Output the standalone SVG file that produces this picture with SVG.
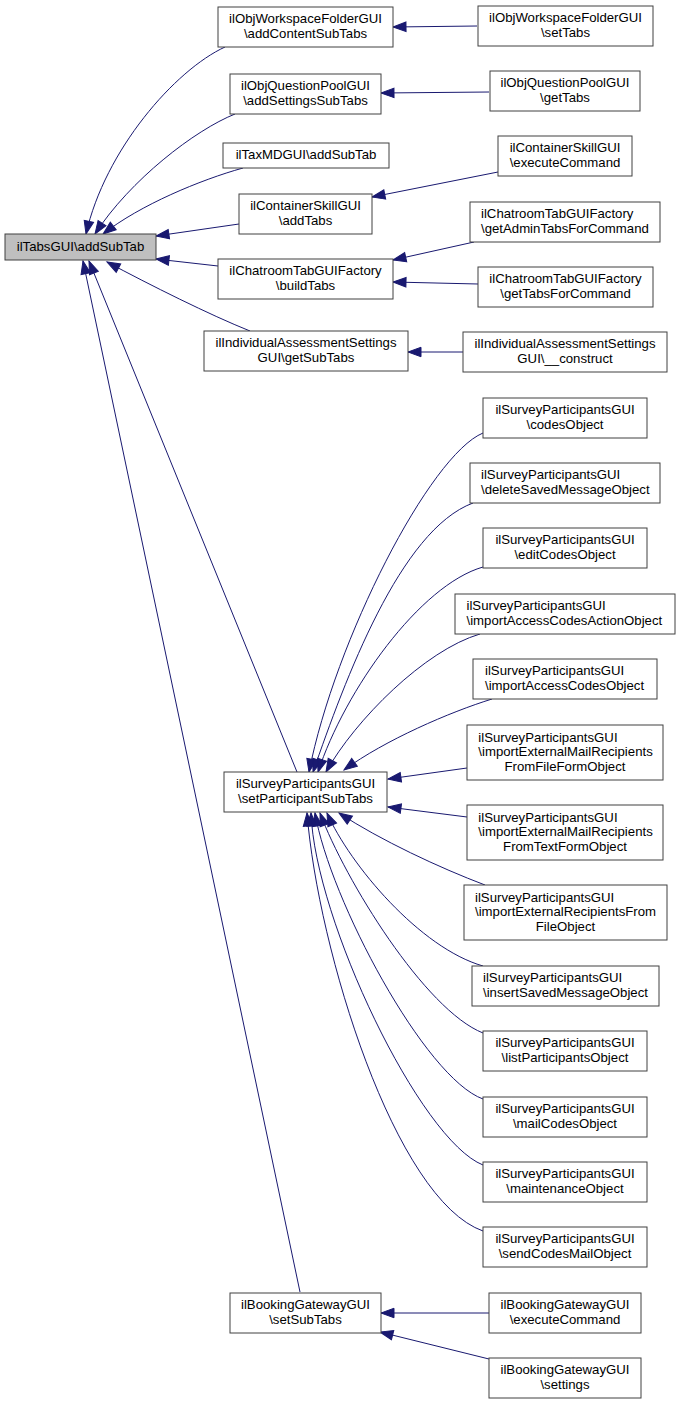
<svg xmlns="http://www.w3.org/2000/svg" width="680" height="1404" viewBox="0 0 680 1404">
<style>
.n rect{fill:#ffffff;stroke:#404040;stroke-width:1}
.root rect{fill:#bfbfbf}
text{font-family:"Liberation Sans",Arial,Helvetica,sans-serif;font-size:13.2px;fill:#000000}
.c{text-anchor:middle}
.l{text-anchor:start}
.e path{fill:none;stroke:#191970;stroke-width:1;marker-end:url(#ah)}
</style>
<defs>
<marker id="ah" markerUnits="userSpaceOnUse" markerWidth="14" markerHeight="11" viewBox="-0.5 -0.5 14 10.5" refX="13" refY="4.75" orient="auto" overflow="visible">
<path d="M0,0 L13,4.75 L0,9.5 Z" fill="#191970" stroke="#191970" stroke-width="1"/>
</marker>
</defs>
<rect width="680" height="1404" fill="#ffffff"/>
<g id="edges" class="e">
<path d="M225,47 C175,70 105,150 86,234"/>
<path d="M235,114 C195,130 130,180 95,234"/>
<path d="M243,168 C200,180 140,205 103,234"/>
<path d="M239,224 L156,236"/>
<path d="M218,266 L156,259"/>
<path d="M250,331 C210,315 150,285 107,262"/>
<path d="M297,772 L89,261"/>
<path d="M300,1292 L83,261"/>
<path d="M477,26 L393,27"/>
<path d="M489,92 L381,93"/>
<path d="M498,172 L372,197"/>
<path d="M474,242 L393,260"/>
<path d="M478,284 L393,282"/>
<path d="M463,352 L408,352"/>
<path d="M483,433 C430,455 335,640 309,772"/>
<path d="M473,503 C400,530 345,680 313,772"/>
<path d="M483,567 C420,585 345,690 318,772"/>
<path d="M480,634 C425,650 355,720 326,772"/>
<path d="M492,699 C450,712 385,740 344,770"/>
<path d="M467,768 L388,779"/>
<path d="M467,817 L388,807"/>
<path d="M485,885 C440,868 380,840 339,813"/>
<path d="M483,966 C420,948 350,865 327,813"/>
<path d="M483,1033 C425,1010 345,880 320,813"/>
<path d="M483,1099 C425,1078 330,900 315,813"/>
<path d="M483,1165 C420,1140 315,920 311,813"/>
<path d="M483,1231 C395,1200 318,950 307,813"/>
<path d="M489,1313 L381,1313"/>
<path d="M489,1359 L380,1332"/>
</g>
<g id="n0" class="n root"><rect x="5" y="234" width="151" height="26"/><text class="c" x="80.5" y="250.7">ilTabsGUI\addSubTab</text></g>
<g id="n1" class="n"><rect x="218" y="7" width="175" height="40"/><text class="c"><tspan x="305.5" y="23.4">ilObjWorkspaceFolderGUI</tspan><tspan x="305.5" y="38">\addContentSubTabs</tspan></text></g>
<g id="n2" class="n"><rect x="230" y="74" width="151" height="40"/><text class="c"><tspan x="305.5" y="90.4">ilObjQuestionPoolGUI</tspan><tspan x="305.5" y="105">\addSettingsSubTabs</tspan></text></g>
<g id="n3" class="n"><rect x="223" y="143" width="166" height="25"/><text class="c" x="306" y="159.2">ilTaxMDGUI\addSubTab</text></g>
<g id="n4" class="n"><rect x="239" y="194" width="133" height="40"/><text class="c"><tspan x="305.5" y="210.4">ilContainerSkillGUI</tspan><tspan x="305.5" y="225">\addTabs</tspan></text></g>
<g id="n5" class="n"><rect x="218" y="259" width="175" height="40"/><text class="c"><tspan x="305.5" y="275.4">ilChatroomTabGUIFactory</tspan><tspan x="305.5" y="290">\buildTabs</tspan></text></g>
<g id="n6" class="n"><rect x="204" y="331" width="204" height="40"/><text class="c"><tspan x="306" y="347.4">ilIndividualAssessmentSettings</tspan><tspan x="306" y="362">GUI\getSubTabs</tspan></text></g>
<g id="n7" class="n"><rect x="478" y="6" width="175" height="40"/><text class="c"><tspan x="565.5" y="22.4">ilObjWorkspaceFolderGUI</tspan><tspan x="565.5" y="37">\setTabs</tspan></text></g>
<g id="n8" class="n"><rect x="490" y="71" width="150" height="40"/><text class="c"><tspan x="565" y="87.4">ilObjQuestionPoolGUI</tspan><tspan x="565" y="102">\getTabs</tspan></text></g>
<g id="n9" class="n"><rect x="498" y="136" width="134" height="40"/><text class="c"><tspan x="565" y="152.4">ilContainerSkillGUI</tspan><tspan x="565" y="167">\executeCommand</tspan></text></g>
<g id="n10" class="n"><rect x="470" y="202" width="190" height="40"/><text class="l"><tspan x="481" y="218.4">ilChatroomTabGUIFactory</tspan><tspan x="481" y="233">\getAdminTabsForCommand</tspan></text></g>
<g id="n11" class="n"><rect x="478" y="267" width="175" height="40"/><text class="c"><tspan x="565.5" y="283.4">ilChatroomTabGUIFactory</tspan><tspan x="565.5" y="298">\getTabsForCommand</tspan></text></g>
<g id="n12" class="n"><rect x="463" y="332" width="204" height="40"/><text class="c"><tspan x="565" y="348.4">ilIndividualAssessmentSettings</tspan><tspan x="565" y="363">GUI\__construct</tspan></text></g>
<g id="n13" class="n"><rect x="224" y="772" width="163" height="40"/><text class="c"><tspan x="305.5" y="788.4">ilSurveyParticipantsGUI</tspan><tspan x="305.5" y="803">\setParticipantSubTabs</tspan></text></g>
<g id="n14" class="n"><rect x="483" y="398" width="164" height="40"/><text class="c"><tspan x="565" y="414.4">ilSurveyParticipantsGUI</tspan><tspan x="565" y="429">\codesObject</tspan></text></g>
<g id="n15" class="n"><rect x="470" y="463" width="190" height="40"/><text class="l"><tspan x="481" y="479.4">ilSurveyParticipantsGUI</tspan><tspan x="481" y="494">\deleteSavedMessageObject</tspan></text></g>
<g id="n16" class="n"><rect x="483" y="528" width="164" height="40"/><text class="c"><tspan x="565" y="544.4">ilSurveyParticipantsGUI</tspan><tspan x="565" y="559">\editCodesObject</tspan></text></g>
<g id="n17" class="n"><rect x="455" y="594" width="220" height="40"/><text class="l"><tspan x="466.5" y="610.4">ilSurveyParticipantsGUI</tspan><tspan x="466.5" y="625">\importAccessCodesActionObject</tspan></text></g>
<g id="n18" class="n"><rect x="473" y="659" width="184" height="40"/><text class="l"><tspan x="485" y="675.4">ilSurveyParticipantsGUI</tspan><tspan x="485" y="690">\importAccessCodesObject</tspan></text></g>
<g id="n19" class="n"><rect x="467" y="725" width="196" height="55"/><text class="l"><tspan x="478.3" y="741.6">ilSurveyParticipantsGUI</tspan><tspan x="478.3" y="756.2">\importExternalMailRecipients</tspan></text><text class="c" x="565" y="770.8">FromFileFormObject</text></g>
<g id="n20" class="n"><rect x="467" y="805" width="196" height="55"/><text class="l"><tspan x="478.3" y="821.6">ilSurveyParticipantsGUI</tspan><tspan x="478.3" y="836.2">\importExternalMailRecipients</tspan></text><text class="c" x="565" y="850.8">FromTextFormObject</text></g>
<g id="n21" class="n"><rect x="464" y="885" width="203" height="55"/><text class="l"><tspan x="475" y="901.6">ilSurveyParticipantsGUI</tspan><tspan x="475" y="916.2">\importExternalRecipientsFrom</tspan></text><text class="c" x="565.5" y="930.8">FileObject</text></g>
<g id="n22" class="n"><rect x="472" y="966" width="187" height="40"/><text class="l"><tspan x="483" y="982.4">ilSurveyParticipantsGUI</tspan><tspan x="483" y="997">\insertSavedMessageObject</tspan></text></g>
<g id="n23" class="n"><rect x="483" y="1031" width="164" height="40"/><text class="c"><tspan x="565" y="1047.4">ilSurveyParticipantsGUI</tspan><tspan x="565" y="1062">\listParticipantsObject</tspan></text></g>
<g id="n24" class="n"><rect x="483" y="1097" width="164" height="40"/><text class="c"><tspan x="565" y="1113.4">ilSurveyParticipantsGUI</tspan><tspan x="565" y="1128">\mailCodesObject</tspan></text></g>
<g id="n25" class="n"><rect x="483" y="1162" width="164" height="40"/><text class="c"><tspan x="565" y="1178.4">ilSurveyParticipantsGUI</tspan><tspan x="565" y="1193">\maintenanceObject</tspan></text></g>
<g id="n26" class="n"><rect x="483" y="1227" width="164" height="40"/><text class="c"><tspan x="565" y="1243.4">ilSurveyParticipantsGUI</tspan><tspan x="565" y="1258">\sendCodesMailObject</tspan></text></g>
<g id="n27" class="n"><rect x="230" y="1293" width="151" height="40"/><text class="c"><tspan x="305.5" y="1309.4">ilBookingGatewayGUI</tspan><tspan x="305.5" y="1324">\setSubTabs</tspan></text></g>
<g id="n28" class="n"><rect x="489" y="1293" width="152" height="40"/><text class="c"><tspan x="565" y="1309.4">ilBookingGatewayGUI</tspan><tspan x="565" y="1324">\executeCommand</tspan></text></g>
<g id="n29" class="n"><rect x="489" y="1358" width="152" height="40"/><text class="c"><tspan x="565" y="1374.4">ilBookingGatewayGUI</tspan><tspan x="565" y="1389">\settings</tspan></text></g>
</svg>
